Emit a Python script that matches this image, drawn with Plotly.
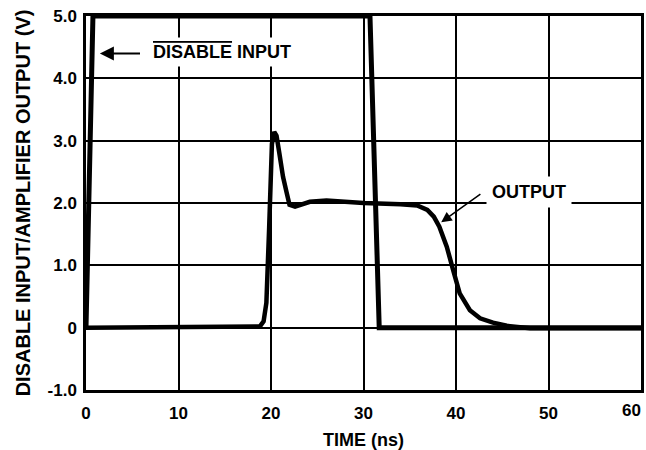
import plotly.graph_objects as go

# DISABLE input waveform
disable_t = [0, 0.75, 30.7, 31.7, 60]
disable_v = [0, 5.0, 5.0, 0, 0]

# Amplifier output waveform
output_t = [0, 18.8, 19.2, 19.5, 19.8, 20.1, 20.35, 20.6, 20.9, 21.3, 21.7, 22.0, 22.6, 23.3,
            24.2, 26.0, 30.0, 34.0, 35.8, 36.9, 37.6, 38.2, 39.0, 39.7, 40.4, 41.5,
            42.6, 44.0, 45.5, 48.0, 60.0]
output_v = [0, 0.02, 0.1, 0.4, 1.6, 2.95, 3.14, 3.08, 2.8, 2.42, 2.16, 1.97, 1.94, 1.98,
            2.02, 2.04, 2.0, 1.98, 1.96, 1.89, 1.78, 1.62, 1.3, 0.92, 0.55, 0.28,
            0.15, 0.08, 0.03, -0.01, -0.01]

x_ticks = [0, 10, 20, 30, 40, 50, 60]
x_labels = ["0", "10", "20", "30", "40", "50", "60"]
y_ticks = [-1, 0, 1, 2, 3, 4, 5]
y_labels = ["-1.0", "0", "1.0", "2.0", "3.0", "4.0", "5.0"]

FONT = "Liberation Sans, Arial, sans-serif"
TICKFONT = dict(family=FONT, size=17, color="black", weight="bold")

fig = go.Figure()
fig.add_trace(go.Scatter(x=disable_t, y=disable_v, mode="lines",
                         line=dict(color="black", width=5), showlegend=False))
fig.add_trace(go.Scatter(x=output_t, y=output_v, mode="lines",
                         line=dict(color="black", width=4.5), showlegend=False))

# arrows
fig.add_annotation(x=1.5, y=4.4, ax=6.0, ay=4.4, axref="x", ayref="y", text="",
                   showarrow=True, arrowhead=2, arrowsize=1.4, arrowwidth=2, arrowcolor="black")
fig.add_annotation(x=38.4, y=1.69, ax=42.8, ay=2.16, axref="x", ayref="y", text="",
                   showarrow=True, arrowhead=2, arrowsize=1.4, arrowwidth=1.5, arrowcolor="black")

# labels
fig.add_annotation(x=6.7, y=4.42, xanchor="left", yanchor="middle",
                   text='<span style="text-decoration:overline">DISABLE</span> INPUT',
                   showarrow=False, bgcolor="white", borderpad=4,
                   font=dict(family=FONT, size=18, color="black", weight="bold"))
fig.add_annotation(x=43.2, y=2.18, xanchor="left", yanchor="middle",
                   text="OUTPUT", showarrow=False, bgcolor="white", borderpad=5,
                   font=dict(family=FONT, size=18, color="black", weight="bold"))

# last x tick label, right-aligned so it stays inside the picture
fig.add_annotation(x=x_ticks[-1], y=0, xref="x", yref="paper", xanchor="right",
                   yanchor="top", yshift=-9, xshift=2, text=x_labels[-1],
                   showarrow=False, font=TICKFONT)

axis_common = dict(showgrid=True, gridcolor="black", gridwidth=2, zeroline=False,
                   showline=True, linecolor="black", linewidth=2.5, mirror=True,
                   tickfont=TICKFONT, ticks="", automargin=False)

fig.update_xaxes(range=[0, 60], tickvals=x_ticks[:-1], ticktext=x_labels[:-1],
                 title=dict(text="TIME (ns)", standoff=14,
                            font=dict(family=FONT, size=18, color="black", weight="bold")),
                 ticklabelstandoff=6, **axis_common)
fig.update_yaxes(range=[-1, 5], tickvals=y_ticks, ticktext=y_labels,
                 title=dict(text="DISABLE INPUT/AMPLIFIER OUTPUT (V)", standoff=12,
                            font=dict(family=FONT, size=20, color="black", weight="bold")),
                 ticklabelstandoff=3, **axis_common)

fig.update_layout(width=646, height=450, margin=dict(l=86, r=5, t=16, b=60),
                  plot_bgcolor="white", paper_bgcolor="white")

fig.write_html("out.html")
